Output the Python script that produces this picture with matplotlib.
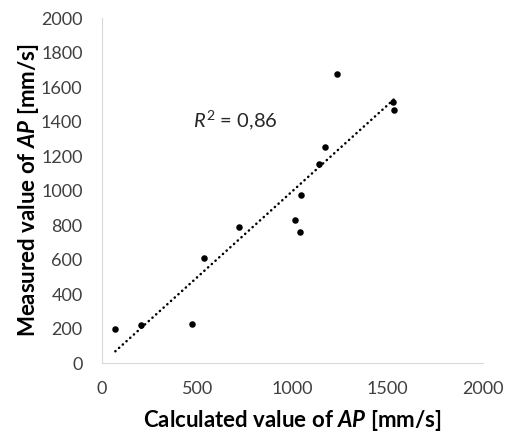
import numpy as np
import matplotlib
matplotlib.use("Agg")
import matplotlib.pyplot as plt

# values
calc_ap = [70, 205, 470, 534, 719, 1011, 1039, 1045, 1141, 1171, 1236, 1530, 1535]
meas_ap = [200, 220, 226, 607, 790, 829, 757, 974, 1152, 1250, 1677, 1513, 1467]
x_ticks = [0, 500, 1000, 1500, 2000]
y_ticks = list(range(0, 2001, 200))
r2_label = "0,86"

plt.rcParams["font.family"] = ["Lato", "DejaVu Sans"]
plt.rcParams["mathtext.fontset"] = "custom"
plt.rcParams["mathtext.rm"] = "Lato"
plt.rcParams["mathtext.it"] = "Lato:italic"
plt.rcParams["mathtext.bf"] = "Lato:bold"
plt.rcParams["mathtext.bfit"] = "Lato:italic:bold"

fig = plt.figure(figsize=(5.11, 4.37), dpi=100)
ax = fig.add_axes([0.1996, 0.1693, 0.7454, 0.7895])

x = np.array(calc_ap, dtype=float)
y = np.array(meas_ap, dtype=float)
ax.scatter(x, y, s=22, color="black", zorder=3, linewidths=0)

# linear trendline
k, b = np.polyfit(x, y, 1)
xs = np.array([x.min(), x.max()])
ax.plot(xs, k * xs + b, color="black", linewidth=1.8,
        linestyle=(0, (0.1, 1.9)), dash_capstyle="round")

ax.text(478, 1410, r"$R^{2}$ = " + r2_label, fontsize=14.5, va="center",
        ha="left", color="#262626")

ax.set_xlim(0, 2000)
ax.set_ylim(0, 2000)
ax.set_xticks(x_ticks)
ax.set_yticks(y_ticks)
ax.tick_params(length=0, labelsize=13, labelcolor="#404040")
ax.tick_params(axis="y", pad=14)
ax.tick_params(axis="x", pad=13)
for side in ["top", "right"]:
    ax.spines[side].set_visible(False)
for side in ["left", "bottom"]:
    ax.spines[side].set_color("#d9d9d9")

ax.set_xlabel(r"Calculated value of $\mathbfit{AP}$ [mm/s]", fontsize=16,
              fontweight="bold", labelpad=8)
ax.set_ylabel(r"Measured value of $\mathbfit{AP}$ [mm/s]", fontsize=16,
              fontweight="bold", labelpad=0)

fig.savefig("out.png", dpi=100)
